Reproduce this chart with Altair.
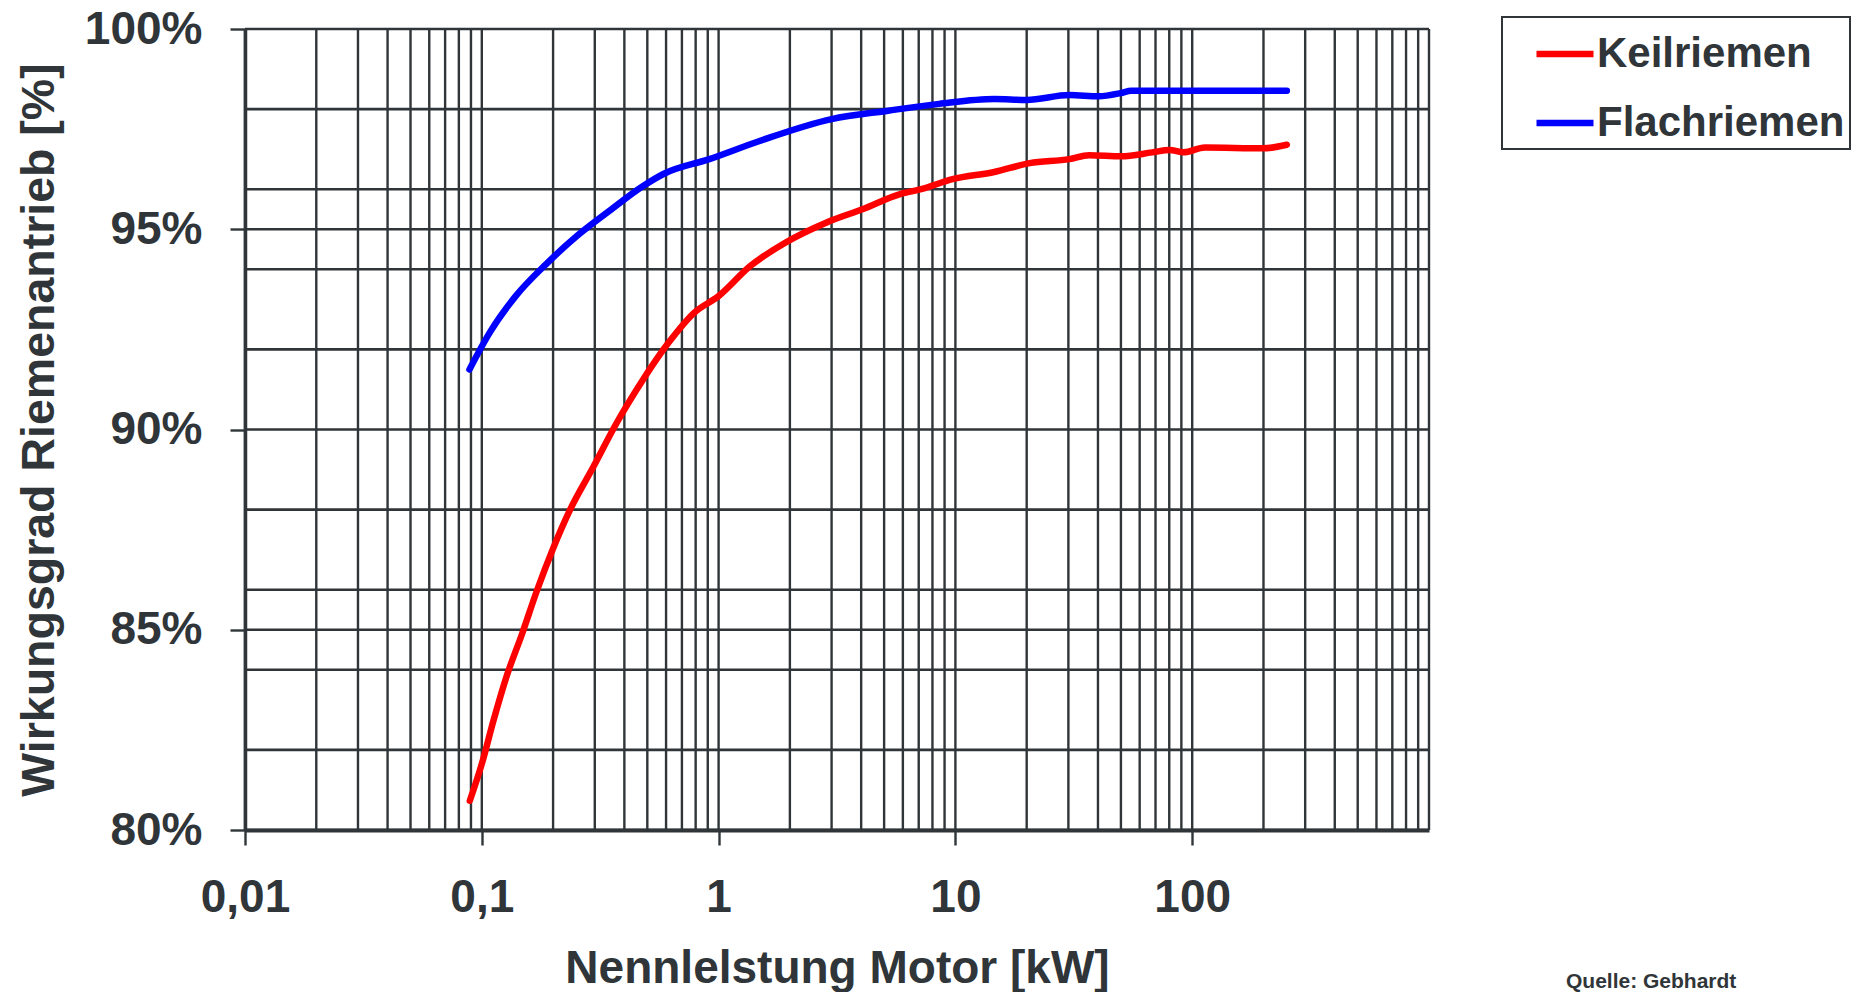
import altair as alt
import pandas as pd

# --- data ---
keil_kw = [0.089, 0.1, 0.112, 0.127, 0.148, 0.171, 0.2, 0.236, 0.296, 0.37, 0.48, 0.615, 0.79, 1.0,
           1.36, 1.92, 2.86, 4.05, 5.84, 7.17, 9.73, 14.6, 20.6, 30.3, 36.7, 50.2, 67.8, 80.3, 92.0,
           113.0, 200.0, 251.0]
keil_eff = [80.73, 81.65, 82.73, 83.82, 84.9, 85.98, 87.03, 88.0, 89.07, 90.15, 91.25, 92.17, 92.92, 93.33,
            94.08, 94.67, 95.17, 95.5, 95.88, 96.0, 96.25, 96.43, 96.65, 96.75, 96.85, 96.82, 96.92, 96.98, 96.92,
            97.04, 97.02, 97.11]
flach_kw = [0.0887, 0.108, 0.139, 0.187, 0.252, 0.339, 0.48, 0.585, 0.914, 1.5, 3.0, 5.2, 8.53, 14.6,
            20.0, 30.3, 40.3, 49.9, 55.3, 100.0, 200.0, 251.0]
flach_eff = [91.5, 92.42, 93.33, 94.13, 94.83, 95.42, 96.08, 96.38, 96.75, 97.21, 97.75, 97.96, 98.13, 98.25,
             98.23, 98.35, 98.32, 98.4, 98.46, 98.46, 98.46, 98.46]

series_names = ["Keilriemen", "Flachriemen"]
series_colors = ["#ff0000", "#0000ff"]

x_tick_values = [0.01, 0.1, 1, 10, 100]
y_tick_values = [80, 85, 90, 95, 100]
y_grid_values = [80, 82, 84, 85, 86, 88, 90, 92, 94, 95, 96, 98, 100]
decades = [0.01, 0.1, 1, 10, 100]
mantissas = [1, 2, 3, 4, 5, 6, 7, 8, 9]
x_grid_values = [round(m * d, 6) for d in decades for m in mantissas] + [1000]

source_text = ["Quelle: Gebhardt"]

# --- tables ---
rows = []
for i, (k, e) in enumerate(zip(keil_kw, keil_eff)):
    rows.append({"kw": k, "eff": e, "series": series_names[0], "order": i})
for i, (k, e) in enumerate(zip(flach_kw, flach_eff)):
    rows.append({"kw": k, "eff": e, "series": series_names[1], "order": i})
df = pd.DataFrame(rows)
xgrid_df = pd.DataFrame({"kw": x_grid_values})
ygrid_df = pd.DataFrame({"eff": y_grid_values})
src_df = pd.DataFrame({"t": source_text})

INK = "#2f3538"
FONT = "Liberation Sans"

xscale = alt.Scale(type="log", domain=[0.01, 1000], nice=False)
yscale = alt.Scale(domain=[80, 100], nice=False, zero=False)

xaxis = alt.Axis(
    values=x_tick_values,
    labelExpr="replace(toString(datum.value), '.', ',')",
    grid=False,
    tickSize=15,
    tickWidth=2.4,
    tickColor=INK,
    domainColor=INK,
    domainWidth=4,
    labelFont=FONT,
    labelFontSize=46,
    labelFontWeight="bold",
    labelColor=INK,
    labelPadding=30,
    labelFlush=False,
    labelOverlap=False,
    title="Nennlelstung Motor [kW]",
    titleFont=FONT,
    titleFontSize=46,
    titleFontWeight="bold",
    titleColor=INK,
    titlePadding=26,
)
yaxis = alt.Axis(
    values=y_tick_values,
    labelExpr="datum.value + '%'",
    grid=False,
    tickSize=15,
    tickWidth=2.4,
    tickColor=INK,
    domainColor=INK,
    domainWidth=3.5,
    labelFont=FONT,
    labelFontSize=46,
    labelFontWeight="bold",
    labelColor=INK,
    labelPadding=28,
    labelFlush=False,
    labelOverlap=False,
    title="Wirkungsgrad Riemenantrieb [%]",
    titleFont=FONT,
    titleFontSize=46.5,
    titleFontWeight="bold",
    titleColor=INK,
    titlePadding=21,
)

vgrid = alt.Chart(xgrid_df).mark_rule(color=INK, strokeWidth=2.4).encode(
    x=alt.X("kw:Q", scale=xscale, axis=xaxis)
)
hgrid = alt.Chart(ygrid_df).mark_rule(color=INK, strokeWidth=2.6).encode(
    y=alt.Y("eff:Q", scale=yscale, axis=yaxis)
)

lines = alt.Chart(df).mark_line(
    strokeWidth=6.5, strokeCap="round", strokeJoin="round", interpolate="monotone"
).encode(
    x=alt.X("kw:Q", scale=xscale, axis=xaxis),
    y=alt.Y("eff:Q", scale=yscale, axis=yaxis),
    color=alt.Color(
        "series:N",
        scale=alt.Scale(domain=series_names, range=series_colors),
        legend=alt.Legend(
            orient="none",
            legendX=1257,
            legendY=-12,
            title=None,
            symbolType="stroke",
            symbolSize=3249,
            symbolStrokeWidth=6.5,
            symbolOffset=26,
            labelFont=FONT,
            labelFontSize=42,
            labelFontWeight="bold",
            labelColor=INK,
            labelOffset=0,
            labelLimit=500,
            strokeColor=INK,
            fillColor="white",
            padding=5,
            rowPadding=16,
        ),
    ),
    order="order:Q",
)

source = alt.Chart(src_df).mark_text(
    font=FONT, fontSize=21, fontWeight="bold", color=INK, align="left", baseline="alphabetic"
).encode(
    text="t:N",
    x=alt.value(1321),
    y=alt.value(959),
)

chart = alt.layer(vgrid, hgrid, lines, source).properties(
    width=1184,
    height=801,
    autosize=alt.AutoSizeParams(type="none"),
    padding={"left": 237, "top": 21, "right": 427, "bottom": 162},
).configure_view(stroke=None).configure_legend(strokeWidth=2)

chart.save("out.html", embed_options={"renderer": "svg", "actions": False})
